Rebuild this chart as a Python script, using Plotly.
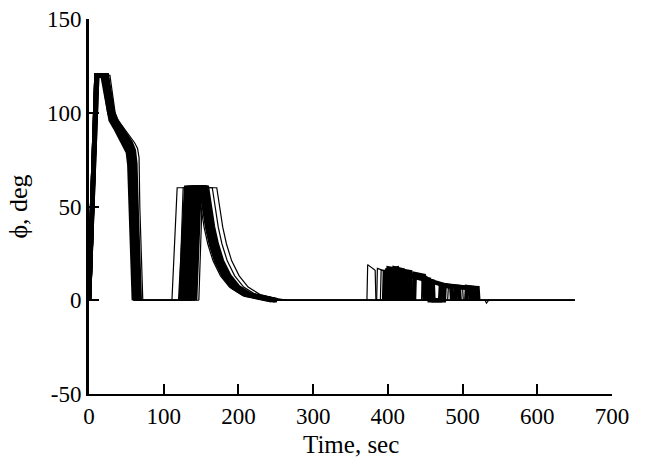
import plotly.graph_objects as go

# Monte Carlo trajectories of bank angle phi (deg) vs time (sec)
run1 = [(0, 0), (12, 120), (28, 120), (31, 110), (35, 100), (39, 96), (46, 92), (54, 88), (61, 84), (65, 81), (67, 76), (68, 50), (70, 20), (72, 0),
        (111, 0), (118, 60), (146, 60), (150, 48), (154, 39), (159, 30), (166, 21), (176, 13), (188, 7), (204, 3), (224, 1), (240, 0),
        (372, 0), (373, 19), (383, 16), (384, 0), (530, 0), (532, -1.5), (535, 0), (650, 0)]
run2 = [(0, 0), (10, 120), (17, 120), (21, 110), (25, 100), (28, 96), (34, 92), (41, 87), (47, 83), (51, 79), (53, 72), (55, 45), (57, 20), (59, 0),
        (147, 0), (152, 60), (171, 60), (175, 48), (179, 39), (184, 30), (191, 21), (201, 13), (213, 7), (229, 3), (249, 1), (266, 0),
        (385, 0), (386, 17), (400, 15), (401, 0), (445, 0), (446, 12), (470, 9), (471, 0), (650, 0)]
run3 = [(0, 0), (10, 120), (19, 120), (23, 110), (27, 100), (30, 96), (36, 92), (43, 87), (49, 83), (53, 79), (55, 72), (57, 45), (59, 20), (61, 0),
        (121, 0), (126, 60), (165, 60), (169, 48), (173, 39), (178, 30), (185, 21), (195, 13), (207, 7), (223, 3), (243, 1), (260, 0),
        (390, 0), (391, 16), (415, 14), (416, 0), (480, 0), (481, 7), (500, 6.5), (501, 0), (650, 0)]
run4 = [(0, 0), (10, 120), (20, 120), (24, 110), (28, 100), (31, 96), (37, 92), (44, 87), (50, 83), (54, 79), (56, 72), (58, 45), (60, 20), (62, 0),
        (122, 0), (130, 60), (156, 60), (160, 48), (164, 39), (169, 30), (176, 21), (186, 13), (198, 7), (214, 3), (234, 1), (250, 0),
        (395, 0), (396, 15), (425, 13), (426, 0), (490, 0), (491, 7), (520, 6.5), (521, 0), (650, 0)]
run5 = [(0, 0), (10, 120), (21, 120), (25, 110), (29, 100), (32, 96), (38, 92), (45, 87), (52, 83), (56, 79), (58, 72), (60, 45), (62, 20), (64, 0),
        (125, 0), (133, 60), (150, 60), (154, 48), (158, 39), (163, 30), (170, 21), (180, 13), (192, 7), (208, 3), (228, 1), (244, 0),
        (400, 0), (401, 17), (430, 15), (431, 0), (650, 0)]
run6 = [(0, 0), (10, 120), (22, 120), (26, 110), (30, 100), (33, 96), (39, 92), (47, 87), (53, 83), (57, 79), (59, 72), (61, 45), (63, 20), (65, 0),
        (128, 0), (136, 60), (154, 60), (158, 48), (162, 39), (167, 30), (174, 21), (184, 13), (196, 7), (212, 3), (232, 1), (248, 0),
        (405, 0), (406, 16), (450, 12), (451, 0), (505, 0), (506, 7), (515, 6.5), (516, 0), (650, 0)]
run7 = [(0, 0), (11, 120), (23, 120), (27, 110), (31, 100), (34, 96), (40, 92), (48, 87), (54, 83), (58, 79), (60, 72), (62, 45), (64, 20), (66, 0),
        (131, 0), (139, 60), (156, 60), (160, 48), (164, 39), (169, 30), (176, 21), (186, 13), (198, 7), (214, 3), (234, 1), (250, 0),
        (415, 0), (416, 15), (455, 11), (456, 0), (470, 0), (471, 8), (495, 7), (496, 0), (650, 0)]
run8 = [(0, 0), (11, 120), (24, 120), (28, 110), (32, 100), (35, 97), (42, 93), (50, 88), (56, 84), (60, 80), (62, 73), (64, 45), (66, 20), (68, 0),
        (134, 0), (141, 60), (152, 60), (156, 48), (160, 39), (165, 30), (172, 21), (182, 13), (194, 7), (210, 3), (230, 1), (246, 0),
        (420, 0), (421, 14), (460, 10), (461, 0), (475, 0), (476, 8), (510, 6.5), (511, 0), (650, 0)]
run9 = [(0, 0), (10, 120), (20, 120), (24, 110), (28, 100), (31, 96), (37, 92), (45, 87), (51, 83), (55, 79), (57, 72), (59, 45), (61, 20), (63, 0),
        (137, 0), (144, 60), (158, 60), (162, 48), (166, 39), (171, 30), (178, 21), (188, 13), (200, 7), (216, 3), (236, 1), (252, 0),
        (398, 0), (399, 16), (412, 17), (413, 0), (435, 0), (436, 14), (448, 13), (449, 0), (650, 0)]
run10 = [(0, 0), (10, 120), (18, 120), (22, 110), (26, 100), (29, 96), (35, 92), (42, 87), (48, 83), (52, 79), (54, 72), (56, 45), (58, 20), (60, 0),
         (142, 0), (148, 60), (155, 60), (159, 48), (163, 39), (168, 30), (175, 21), (185, 13), (197, 7), (213, 3), (233, 1), (249, 0),
         (408, 0), (409, 17), (420, 16), (421, 0), (458, 0), (459, 10), (485, 7), (486, 0), (650, 0)]

runs = [run1, run2, run3, run4, run5, run6, run7, run8, run9, run10]
run_widths = [1.2, 1.2, 1.2, 4.5, 4.5, 4.5, 4.5, 4.5, 4.5, 4.5]

x_ticks = [0, 100, 200, 300, 400, 500, 600, 700]
y_ticks = [-50, 0, 50, 100, 150]
y_tick_text = ["-50", "0", "50", "100", "150"]

FONT = "Liberation Serif, Times New Roman, serif"


def split_run(run):
    """Separate the active manoeuvres from the long idle stretches at phi = 0."""
    active, idle, cur = [], [], [run[0]]
    for a, b in zip(run, run[1:]):
        if a[1] == 0 and b[1] == 0 and b[0] - a[0] > 15:
            active.append(cur)
            idle.append([a, b])
            cur = [b]
        else:
            cur.append(b)
    active.append(cur)
    return active, idle


def joined(segs):
    xs, ys = [], []
    for s in segs:
        xs += [p[0] for p in s] + [None]
        ys += [p[1] for p in s] + [None]
    return xs, ys


fig = go.Figure()
for run, w in zip(runs, run_widths):
    active, idle = split_run(run)
    ix, iy = joined(idle)
    fig.add_trace(go.Scatter(x=ix, y=iy, mode="lines",
                             line=dict(color="black", width=1.2),
                             showlegend=False, hoverinfo="skip"))
    ax, ay = joined(active)
    fig.add_trace(go.Scatter(x=ax, y=ay, mode="lines",
                             line=dict(color="black", width=w),
                             showlegend=False, hoverinfo="skip"))

fig.update_layout(
    width=648, height=464,
    margin=dict(l=89, r=36, t=19, b=70),
    paper_bgcolor="white", plot_bgcolor="white",
    font=dict(family=FONT, size=23, color="black"),
    xaxis=dict(range=[0, 700], tickvals=x_ticks, ticks="inside", ticklen=10,
               tickwidth=1.5, tickcolor="black", showline=True, linecolor="black",
               linewidth=2, showgrid=False, zeroline=False, automargin=False),
    yaxis=dict(range=[-50, 150], tickvals=y_ticks, ticktext=y_tick_text,
               ticks="inside", ticklen=10,
               tickwidth=1.5, tickcolor="black", showline=True, linecolor="black",
               linewidth=3, showgrid=False, zeroline=False, automargin=False,
               title=dict(text="ϕ, deg", standoff=12,
                          font=dict(family=FONT, size=26, color="black"))),
    annotations=[dict(text="Time, sec", xref="paper", yref="paper",
                      x=0.5, y=-0.135, xanchor="center", yanchor="middle",
                      showarrow=False, font=dict(family=FONT, size=25, color="black"))],
)

fig.write_html("out.html", config={"displayModeBar": False},
               post_script="document.body.style.margin='0';")
